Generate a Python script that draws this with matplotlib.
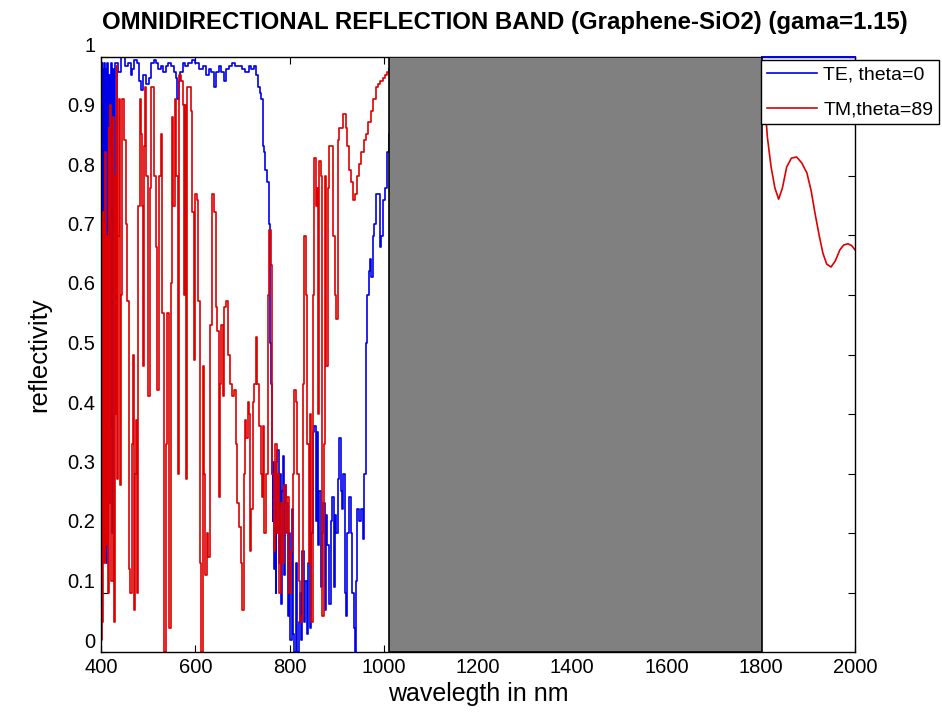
import numpy as np
import matplotlib.pyplot as plt
from matplotlib.transforms import ScaledTranslation

plt.rcParams['font.family'] = ['Liberation Sans', 'DejaVu Sans']

# TE, theta=0 (visible part left of the gray band)
te_wl = [400, 401, 402, 403, 404, 406, 407, 409, 410, 412, 414, 416, 418, 420, 422, 424,
         426, 428, 430, 434, 440, 447, 454, 461, 465, 468, 474, 478, 483, 487, 490, 493,
         498, 504, 510, 515, 519, 524, 529, 535, 540, 546, 552, 558, 561, 563, 566, 570,
         576, 582, 589, 596, 604, 612, 621, 626, 631, 637, 642, 647, 652, 658, 663, 668,
         674, 680, 688, 695, 703, 710, 716, 722, 727, 731, 735, 739, 742, 744, 747, 750,
         754, 757, 759, 760, 762, 764, 765, 766, 768, 770, 771, 773, 776, 778, 780, 782,
         785, 787, 790, 792, 795, 797, 800, 803, 806, 809, 812, 815, 818, 821, 823, 826,
         829, 832, 835, 838, 841, 845, 848, 851, 854, 857, 860, 862, 865, 868, 871, 873,
         876, 879, 882, 886, 889, 892, 895, 898, 901, 904, 907, 910, 913, 916, 918, 921,
         925, 929, 932, 935, 937, 939, 942, 946, 950, 954, 957, 960, 963, 966, 970, 973,
         975, 978, 982, 986, 990, 993, 997, 1000, 1005, 1009, 1013]
te_r = [1.0, 0.40, 0.99, 0.38, 0.98, 0.72, 0.99, 0.25, 0.98, 0.15, 0.99, 0.30, 0.97, 0.38, 0.99, 0.20,
        0.98, 0.60, 0.99, 0.99, 0.975, 1.0, 0.985, 0.99, 0.97, 0.98, 0.995, 0.99, 0.96, 0.945, 0.97, 0.97,
        0.955, 0.965, 0.99, 0.995, 0.99, 0.98, 0.985, 0.975, 0.985, 0.99, 0.985, 0.975, 0.965, 0.93, 0.96, 0.975,
        0.99, 0.985, 0.99, 0.995, 0.99, 0.98, 0.985, 0.97, 0.98, 0.975, 0.95, 0.975, 0.985, 0.975, 0.96, 0.98,
        0.985, 0.99, 0.985, 0.985, 0.98, 0.975, 0.985, 0.98, 0.985, 0.97, 0.95, 0.94, 0.93, 0.85, 0.84, 0.81,
        0.79, 0.72, 0.62, 0.52, 0.45, 0.30, 0.22, 0.32, 0.14, 0.25, 0.10, 0.32, 0.34, 0.15, 0.30, 0.08,
        0.27, 0.33, 0.13, 0.28, 0.25, 0.06, 0.20, 0.02, 0.24, 0.03, 0.0, 0.15, 0.0, 0.05, 0.10, 0.02,
        0.17, 0.05, 0.12, 0.03, 0.15, 0.04, 0.20, 0.37, 0.38, 0.22, 0.37, 0.18, 0.27, 0.11, 0.20, 0.25,
        0.07, 0.23, 0.18, 0.08, 0.22, 0.26, 0.11, 0.23, 0.20, 0.29, 0.36, 0.27, 0.24, 0.30, 0.10, 0.06,
        0.20, 0.26, 0.20, 0.10, 0.04, 0.0, 0.12, 0.24, 0.22, 0.24, 0.19, 0.30, 0.52, 0.60, 0.64, 0.66,
        0.63, 0.70, 0.72, 0.77, 0.77, 0.68, 0.70, 0.76, 0.78, 0.84, 0.87]

# TE, theta=0 (right of the gray band)
te_wl2 = [1802, 1850, 1900, 1950, 2000]
te_r2 = [1.0, 1.0, 1.0, 1.0, 1.0]

# TM, theta=89 (left of the gray band)
tm_wl = [400, 401, 402, 403, 404, 405, 406, 408, 409, 411, 413, 415, 417, 419, 421, 423,
         426, 428, 430, 432, 434, 436, 438, 440, 441, 444, 447, 451, 455, 457, 461, 464,
         466, 468, 470, 472, 474, 476, 478, 481, 483, 486, 488, 490, 492, 495, 498, 502,
         505, 508, 512, 515, 518, 521, 525, 528, 532, 536, 539, 542, 546, 549, 552, 555,
         558, 561, 564, 568, 572, 575, 578, 580, 582, 585, 589, 593, 595, 598, 602, 605,
         608, 611, 614, 617, 620, 623, 626, 630, 634, 637, 641, 645, 648, 651, 654, 657,
         660, 664, 667, 671, 675, 680, 685, 688, 691, 695, 699, 701, 704, 707, 710, 713,
         716, 718, 720, 723, 727, 730, 733, 737, 740, 742, 745, 748, 752, 756, 759, 762,
         765, 768, 771, 774, 777, 780, 783, 786, 790, 794, 797, 801, 805, 809, 812, 815,
         818, 821, 824, 827, 830, 833, 836, 839, 842, 845, 848, 851, 854, 857, 860, 862,
         865, 868, 871, 874, 877, 880, 883, 886, 890, 894, 897, 901, 903, 907, 912, 917,
         921, 925, 929, 933, 937, 941, 945, 950, 955, 960, 965, 970, 975, 980, 985, 990,
         995, 1000, 1005, 1010, 1013]
tm_r = [0.37, 0.02, 0.42, 0.05, 0.74, 0.35, 0.72, 0.15, 0.84, 0.18, 0.70, 0.10, 0.88, 0.25, 0.92, 0.12,
        0.90, 0.05, 0.80, 0.40, 0.985, 0.29, 0.70, 0.93, 0.28, 0.60, 0.93, 0.86, 0.72, 0.59, 0.14, 0.10,
        0.35, 0.50, 0.41, 0.07, 0.30, 0.39, 0.10, 0.75, 0.93, 0.87, 0.75, 0.48, 0.85, 0.95, 0.80, 0.43,
        0.78, 0.95, 0.95, 0.80, 0.68, 0.44, 0.80, 0.87, 0.57, 0.0, 0.35, 0.57, 0.04, 0.62, 0.90, 0.75,
        0.93, 0.80, 0.30, 0.97, 0.96, 0.92, 0.60, 0.92, 0.29, 0.95, 0.95, 0.91, 0.74, 0.49, 0.77, 0.76,
        0.59, 0.15, 0.0, 0.48, 0.30, 0.13, 0.20, 0.16, 0.55, 0.77, 0.74, 0.58, 0.54, 0.26, 0.45, 0.55,
        0.43, 0.58, 0.59, 0.50, 0.45, 0.43, 0.44, 0.35, 0.25, 0.21, 0.15, 0.07, 0.30, 0.39, 0.36, 0.42,
        0.40, 0.17, 0.24, 0.42, 0.45, 0.53, 0.45, 0.38, 0.30, 0.26, 0.38, 0.20, 0.30, 0.60, 0.71, 0.65,
        0.30, 0.17, 0.35, 0.20, 0.30, 0.10, 0.25, 0.15, 0.28, 0.20, 0.26, 0.10, 0.17, 0.30, 0.44, 0.42,
        0.30, 0.12, 0.05, 0.06, 0.45, 0.70, 0.60, 0.35, 0.15, 0.40, 0.05, 0.60, 0.83, 0.75, 0.78, 0.40,
        0.825, 0.80, 0.06, 0.35, 0.80, 0.48, 0.78, 0.85, 0.85, 0.70, 0.60, 0.56, 0.86, 0.88, 0.88, 0.905,
        0.88, 0.85, 0.81, 0.79, 0.76, 0.77, 0.80, 0.82, 0.84, 0.86, 0.87, 0.89, 0.91, 0.93, 0.95, 0.955,
        0.96, 0.965, 0.97, 0.975, 0.98]

# TM, theta=89 (right of the gray band)
tm_wl2 = [1802, 1806, 1810, 1814, 1818, 1822, 1830, 1838, 1846, 1855, 1865, 1876, 1887,
          1898, 1907, 1915, 1924, 1932, 1940, 1949, 1958, 1968, 1976, 1985, 1993, 2000]
tm_r2 = [0.97, 0.95, 0.91, 0.866, 0.84, 0.815, 0.78, 0.761, 0.78, 0.815, 0.83, 0.832, 0.822,
         0.805, 0.775, 0.738, 0.70, 0.67, 0.652, 0.647, 0.657, 0.676, 0.684, 0.686, 0.683, 0.676]

band_lo, band_hi = 1012, 1802

blue = '#0000e6'
red = '#dd0000'

fig = plt.figure(figsize=(9.42, 7.13), dpi=100)
ax = fig.add_axes([101 / 942, 61 / 713, 754 / 942, 595 / 713])

ax.plot(te_wl, te_r, color=blue, lw=1.2, drawstyle='steps-mid', label='TE, theta=0')
ax.plot(te_wl2, te_r2, color=blue, lw=1.4, clip_on=False, zorder=2.6)
ax.plot(tm_wl, tm_r, color=red, lw=1.2, drawstyle='steps-mid', label='TM,theta=89')
ax.plot(tm_wl2, tm_r2, color=red, lw=1.2)
ax.axvspan(band_lo, band_hi, facecolor='#808080', edgecolor='black', lw=1.2, zorder=3)

ax.set_xlim(400, 2000)
ax.set_ylim(0, 1)
ax.set_xticks(np.arange(400, 2001, 200))
ax.set_yticks(np.arange(0, 1.01, 0.1))
ax.set_yticklabels(['0', '0.1', '0.2', '0.3', '0.4', '0.5', '0.6', '0.7', '0.8', '0.9', '1'])
ax.tick_params(direction='in', top=True, right=True, length=5, width=0.8, labelsize=14.5, pad=4)
for sp in ax.spines.values():
    sp.set_linewidth(1.0)

# tick labels on the y axis sit a bit above their ticks in the original
off = ScaledTranslation(0, 0.12, fig.dpi_scale_trans)
for lab in ax.get_yticklabels():
    lab.set_transform(lab.get_transform() + off)

ax.set_xlabel('wavelegth in nm', fontsize=18, labelpad=4)
ax.set_ylabel('reflectivity', fontsize=18.5, labelpad=12)
ax.set_title('OMNIDIRECTIONAL REFLECTION BAND (Graphene-SiO2) (gama=1.15)',
             fontsize=17.3, fontweight='bold', x=0.536, pad=20)

leg = fig.legend(loc='upper left', bbox_to_anchor=(761 / 942, 1 - 60 / 713),
                 fontsize=14, frameon=True, fancybox=False, framealpha=1,
                 edgecolor='black', borderaxespad=0, borderpad=0.3,
                 handlelength=2.6, handletextpad=0.3, labelspacing=0.9)
leg.get_frame().set_linewidth(1.0)

fig.savefig('out.png', dpi=100)
